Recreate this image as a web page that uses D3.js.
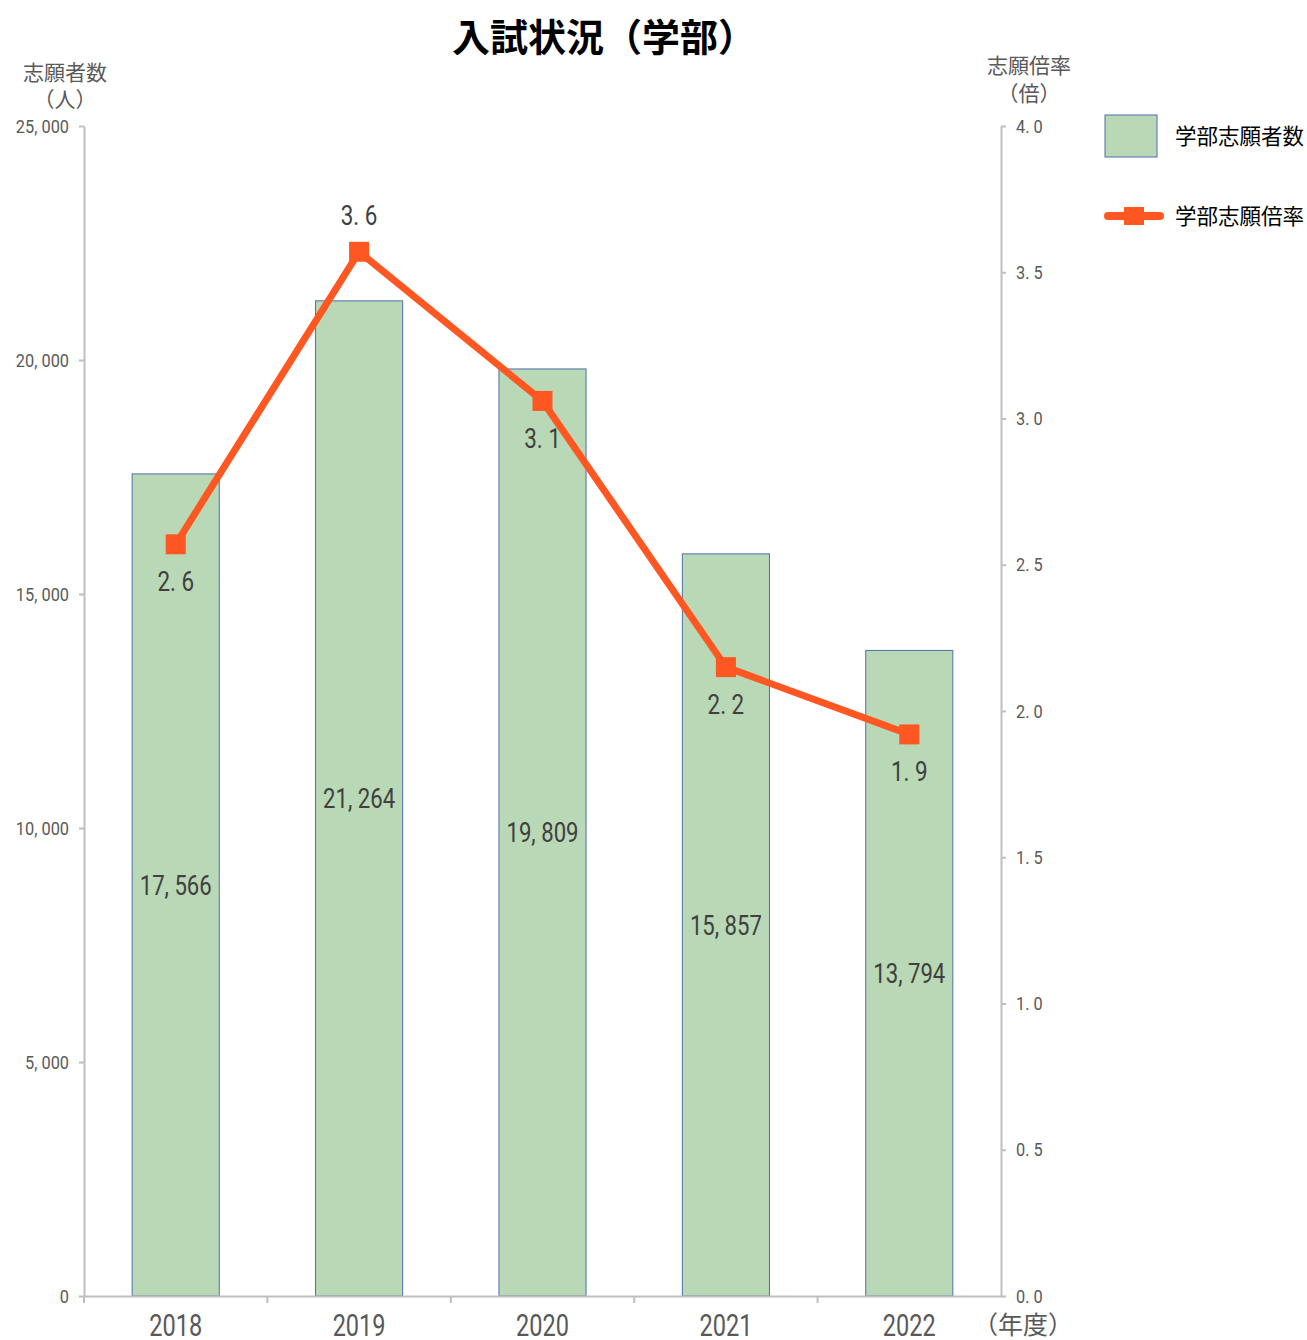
<!DOCTYPE html>
<html><head><meta charset="utf-8">
<script src="https://cdn.jsdelivr.net/npm/d3@7"></script>
<style>body{margin:0;background:#fff}</style>
</head><body>
<svg id="c" width="1307" height="1340"></svg>
<script>
const years = ["2018","2019","2020","2021","2022"];
const applicants = [17566, 21264, 19809, 15857, 13794];
const ratios = [2.57, 3.57, 3.06, 2.15, 1.92];
const ratioLabels = ["2.6","3.6","3.1","2.2","1.9"];
const leftTicks = [0,5000,10000,15000,20000,25000];
const rightTicks = [0,0.5,1,1.5,2,2.5,3,3.5,4];

const svg = d3.select("#c");
const L = 84, R = 1001, T = 126, B = 1296;
const jp = "'Noto Sans CJK JP','Noto Sans',sans-serif";
const num = "Roboto,'Noto Sans',sans-serif";
const axisCol = "#bfbfbf", textCol = "#595959";

const x = d3.scaleBand().domain(years).range([L, R]).paddingInner(0.525).paddingOuter(0.2625);
const xb = d3.scaleBand().domain(years).range([L, R]);
const yL = d3.scaleLinear().domain([0, 25000]).range([B, T]);
const yR = d3.scaleLinear().domain([0, 4]).range([B, T]);
const fmt = v => d3.format(",")(v).replace(/,/g, ", ");

function ctext(g, tx, ty, str, size, k, anchor, fill) {
  return g.append("text")
    .attr("transform", `translate(${tx},${ty}) scale(${k},1)`)
    .attr("text-anchor", anchor).attr("font-family", num).attr("font-size", size)
    .attr("fill", fill).text(str);
}

// bars
svg.selectAll("rect.bar").data(years).join("rect")
  .attr("x", d => x(d)).attr("width", x.bandwidth())
  .attr("y", (d,i) => yL(applicants[i])).attr("height", (d,i) => B - yL(applicants[i]))
  .attr("fill", "#b9d8b5").attr("stroke", "#4f6fa8").attr("stroke-width", 1);

// axes
const gl = svg.append("g").attr("transform", `translate(${L},0)`)
  .call(d3.axisLeft(yL).tickValues(leftTicks).tickSize(5).tickSizeOuter(0).tickFormat(d => fmt(d)));
const gr = svg.append("g").attr("transform", `translate(${R},0)`)
  .call(d3.axisRight(yR).tickValues(rightTicks).tickSize(5).tickSizeOuter(0).tickFormat(d => d3.format(".1f")(d).replace(".", ". ")));
const gx = svg.append("g").attr("transform", `translate(0,${B})`)
  .call(d3.axisBottom(xb).tickSize(0).tickSizeOuter(0));
[gl, gr, gx].forEach(g => {
  g.select(".domain").attr("stroke", axisCol).attr("stroke-width", 2);
  g.selectAll(".tick line").attr("stroke", axisCol).attr("stroke-width", 2);
  g.selectAll("text").attr("fill", textCol).attr("font-family", num);
});
const kT = 0.86;
gl.selectAll("text").attr("font-size", 19).attr("x", -15 / kT).attr("transform", `scale(${kT},1)`);
gr.selectAll("text").attr("font-size", 19).attr("x", 15 / kT).attr("transform", `scale(${kT},1)`);
const kX = 0.76;
gx.selectAll("text").attr("font-size", 31).attr("dy", 0).attr("y", 40).attr("x", 0)
  .attr("transform", `scale(${kX},1)`);
// x axis boundary ticks
const bounds = years.slice(1).map(d => xb(d)).concat([L]);
svg.selectAll("line.xt").data(bounds).join("line")
  .attr("x1", d => d).attr("x2", d => d).attr("y1", B).attr("y2", B + 7)
  .attr("stroke", axisCol).attr("stroke-width", 2);

// line
const cx = (d) => x(d) + x.bandwidth()/2;
const line = d3.line().x((d,i) => cx(years[i])).y(d => yR(d));
svg.append("path").datum(ratios).attr("d", line)
  .attr("fill", "none").attr("stroke", "#ff5722").attr("stroke-width", 7).attr("stroke-linejoin", "round");
svg.selectAll("rect.mk").data(ratios).join("rect")
  .attr("x", (d,i) => cx(years[i]) - 10).attr("y", d => yR(d) - 10)
  .attr("width", 20).attr("height", 20).attr("fill", "#ff5722");

// labels
const lg = svg.append("g");
applicants.forEach((d,i) => ctext(lg, cx(years[i]), (yL(d) + B) / 2 + 10, fmt(d), 28, 0.79, "middle", "#404040"));
const above = [false, true, false, false, false];
ratios.forEach((d,i) => ctext(lg, cx(years[i]), above[i] ? yR(d) - 27 : yR(d) + 47,
  ratioLabels[i].replace(".", ". "), 28, 0.8, "middle", "#404040"));

// titles
svg.append("text").attr("x", 604).attr("y", 51).attr("text-anchor", "middle")
  .attr("font-family", jp).attr("font-weight", "bold").attr("font-size", 38).attr("fill", "#000").text("入試状況（学部）");
const lab = (t, xx, yy, s) => svg.append("text").attr("x", xx).attr("y", yy).attr("text-anchor", "middle")
  .attr("font-family", jp).attr("font-size", s).attr("fill", textCol).text(t);
lab("志願者数", 65, 80, 21); lab("（人）", 65, 107, 21);
lab("志願倍率", 1029, 73, 21); lab("（倍）", 1029, 101, 21);
lab("（年度）", 1023, 1334, 25);

// legend
svg.append("rect").attr("x", 1105).attr("y", 115).attr("width", 52).attr("height", 42)
  .attr("fill", "#b9d8b5").attr("stroke", "#4f6fa8").attr("stroke-width", 1);
svg.append("line").attr("x1", 1108).attr("x2", 1160).attr("y1", 216).attr("y2", 216)
  .attr("stroke", "#ff5722").attr("stroke-width", 8).attr("stroke-linecap", "round");
svg.append("rect").attr("x", 1124).attr("y", 207).attr("width", 20).attr("height", 18).attr("fill", "#ff5722");
svg.append("text").attr("x", 1175).attr("y", 144).attr("font-family", jp).attr("font-size", 21.5).attr("fill", "#000").text("学部志願者数");
svg.append("text").attr("x", 1175).attr("y", 224).attr("font-family", jp).attr("font-size", 21.5).attr("fill", "#000").text("学部志願倍率");
</script>
</body></html>
